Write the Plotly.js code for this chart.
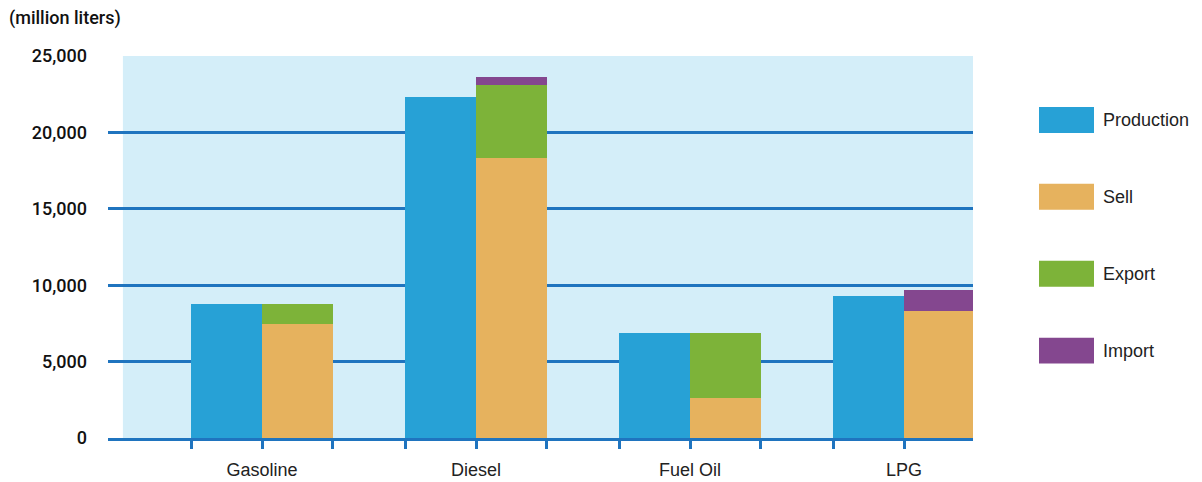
<!DOCTYPE html>
<html>
<head>
<meta charset="utf-8">
<script src="https://cdn.plot.ly/plotly-3.0.1.min.js"></script>
<style>html,body{margin:0;padding:0;background:#fff}#chart{width:1202px;height:482px}</style>
</head>
<body>
<div id="chart"></div>
<script>
// ---- data ----
const categories = ["Gasoline", "Diesel", "Fuel Oil", "LPG"];
const production = [8800, 22320, 6900, 9310];
const sell       = [7480, 18330, 2650, 8330];
const exportVals = [1320, 4770, 4250, 0];
const importVals = [0, 520, 0, 1370];
const seriesNames  = ["Production", "Sell", "Export", "Import"];
const seriesColors = ["#27a1d6", "#e6b25e", "#7db339", "#84478f"];
const yTickVals  = [0, 5000, 10000, 15000, 20000, 25000];
const yTickText  = ["0", "5,000", "10,000", "15,000", "20,000", "25,000"];
const yUnit = "(million liters)";

// ---- layout helpers ----
const BW = 0.33;
const idx = categories.map((_, i) => i);
const xProd = idx.map(i => i - BW / 2);
const xStack = idx.map(i => i + BW / 2);
const gridBlue = "#1f74bf";
const font = "Liberation Sans, Arial, sans-serif";
const fontMed = "Roboto, Liberation Sans, Arial, sans-serif";

const traces = [
  {type: "bar", x: xProd, y: production, width: BW, name: seriesNames[0],
   marker: {color: seriesColors[0], line: {width: 0}}},
  {type: "bar", x: xStack, y: sell, width: BW, name: seriesNames[1],
   marker: {color: seriesColors[1], line: {width: 0}}},
  {type: "bar", x: xStack, y: exportVals, width: BW, name: seriesNames[2],
   marker: {color: seriesColors[2], line: {width: 0}}, base: sell},
  {type: "bar", x: xStack, y: importVals, width: BW, name: seriesNames[3],
   marker: {color: seriesColors[3], line: {width: 0}},
   base: sell.map((s, i) => s + exportVals[i])}
];

const edges = [];
idx.forEach(i => { edges.push(i - BW, i, i + BW); });

const shapes = [{
  type: "rect", xref: "x", yref: "y", layer: "below",
  x0: -0.65, x1: 3.4, y0: 0, y1: 25000,
  fillcolor: "#d4eef9", line: {width: 0}
}];
const annotations = [{
  xref: "paper", yref: "paper", x: -101 / 865, y: 1 + 38 / 382.5,
  xanchor: "left", yanchor: "middle", text: yUnit, showarrow: false,
  font: {family: fontMed, size: 18, color: "#111", weight: 500}
}];
// legend drawn as swatches + labels
seriesNames.forEach((n, k) => {
  const yc = 120 + k * 77;           // pixel center from top
  const yp = 1 - (yc - 56) / 382.5;
  const hp = 13 / 382.5;
  shapes.push({type: "rect", xref: "paper", yref: "paper",
    x0: (1039 - 108) / 865, x1: (1094 - 108) / 865, y0: yp - hp, y1: yp + hp,
    fillcolor: seriesColors[k], line: {width: 0}});
  annotations.push({xref: "paper", yref: "paper", x: (1101 - 108) / 865, y: yp,
    xanchor: "left", yanchor: "middle", text: n, showarrow: false,
    font: {family: font, size: 18, color: "#222"}});
});

const layout = {
  width: 1202, height: 482,
  margin: {l: 108, r: 229, t: 56, b: 43.5, pad: 0},
  paper_bgcolor: "#ffffff", plot_bgcolor: "rgba(0,0,0,0)",
  showlegend: false, barmode: "overlay", bargap: 0,
  font: {family: font, size: 18, color: "#222"},
  xaxis: {
    range: [-0.7196, 3.322], tickmode: "array", tickvals: idx, ticktext: categories,
    ticks: "", showgrid: false, zeroline: false,
    showline: true, linecolor: gridBlue, linewidth: 3,
    ticklabelstandoff: 13,
    tickfont: {family: font, size: 18, color: "#222"},
    minor: {tickmode: "array", tickvals: edges, ticks: "outside", ticklen: 8,
            tickwidth: 3, tickcolor: gridBlue, showgrid: false},
    fixedrange: true
  },
  yaxis: {
    range: [0, 25000], tickmode: "array", tickvals: yTickVals, ticktext: yTickText,
    showgrid: true, gridcolor: gridBlue, gridwidth: 3, zeroline: false,
    showline: false, ticks: "", ticklabelstandoff: 20,
    tickfont: {family: fontMed, size: 18, color: "#111", weight: 500},
    fixedrange: true
  },
  shapes: shapes,
  annotations: annotations
};

Plotly.newPlot("chart", traces, layout, {displayModeBar: false, staticPlot: true});
</script>
</body>
</html>
